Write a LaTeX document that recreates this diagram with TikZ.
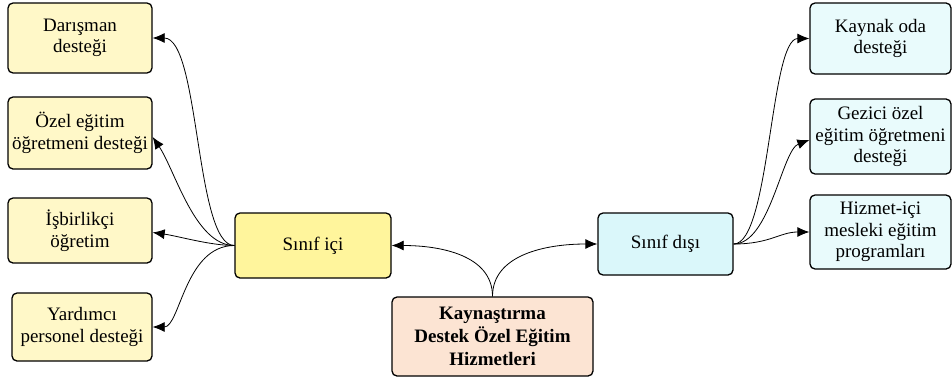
\documentclass[tikz,border=0pt]{standalone}
\usepackage{fontspec}
\setmainfont{Liberation Serif}
\usetikzlibrary{arrows.meta}
\definecolor{leafyellow}{HTML}{FFF8C8}
\definecolor{midyellow}{HTML}{FFF59C}
\definecolor{midcyan}{HTML}{DAF7FA}
\definecolor{leafcyan}{HTML}{E9FBFC}
\definecolor{rootpeach}{HTML}{FCE4D3}
\tikzset{
  box/.style={draw=black, line width=1.3pt, rounded corners=5pt, align=center,
    inner sep=0pt, font=\fontsize{19}{21.5}\selectfont},
  link/.style={line width=0.8pt, -{Latex[length=12pt,width=10pt]}}
}
\begin{document}
\begin{tikzpicture}[x=1pt,y=-1pt]
\useasboundingbox (0,0) rectangle (952,383);
\fill[white] (0,0) rectangle (952,383);

% left-hand leaves
\node[box, fill=leafyellow, minimum width=144pt, minimum height=70pt] (d1) at (80,38) {Darışman\\desteği};
\node[box, fill=leafyellow, minimum width=144pt, minimum height=72pt] (d2) at (80,133) {Özel eğitim\\öğretmeni desteği};
\node[box, fill=leafyellow, minimum width=144pt, minimum height=65pt] (d3) at (80,230.5) {İşbirlikçi\\öğretim};
\node[box, fill=leafyellow, minimum width=140pt, minimum height=68pt] (d4) at (82,327) {Yardımcı\\personel desteği};

% branches and root
\node[box, fill=midyellow, minimum width=156pt, minimum height=65pt] (ic) at (313,245.5) {Sınıf içi};
\node[box, fill=midcyan, minimum width=135pt, minimum height=62pt] (dis) at (665.5,244) {Sınıf dışı};
\node[box, fill=rootpeach, minimum width=201pt, minimum height=79pt,
      font=\fontsize{19}{23}\selectfont\bfseries] (root) at (492.5,336.5)
      {Kaynaştırma\\Destek Özel Eğitim\\Hizmetleri};

% right-hand leaves
\node[box, fill=leafcyan, minimum width=141pt, minimum height=71pt] (r1) at (880.5,38.5) {Kaynak oda\\desteği};
\node[box, fill=leafcyan, minimum width=141pt, minimum height=75pt] (r2) at (880.5,136.5) {Gezici özel\\eğitim öğretmeni\\desteği};
\node[box, fill=leafcyan, minimum width=141pt, minimum height=74pt] (r3) at (880.5,232) {Hizmet-içi\\mesleki eğitim\\programları};

% root to branches
\draw[link] (root.north) .. controls (492.5,255) and (440,245.5) .. (ic.east);
\draw[link] (root.north) .. controls (492.5,255) and (545,244) .. (dis.west);

% inside-class fan
\draw[link] (ic.west) .. controls (195,245.5) and (200,38) .. (d1.east);
\draw[link] (ic.west) .. controls (195,245.5) and (175,170) .. ([yshift=-4pt]d2.east);
\draw[link] (ic.west) .. controls (210,245.5) and (178,236) .. ([yshift=-2pt]d3.east);
\draw[link] (ic.west) .. controls (185,245.5) and (180,327) .. (d4.east);

% outside-class fan
\draw[link] (dis.east) .. controls (770,244) and (770,38.5) .. (r1.west);
\draw[link] (dis.east) .. controls (770,244) and (782,150) .. ([yshift=-3.5pt]r2.west);
\draw[link] (dis.east) .. controls (770,244) and (780,232) .. (r3.west);
\end{tikzpicture}
\end{document}
